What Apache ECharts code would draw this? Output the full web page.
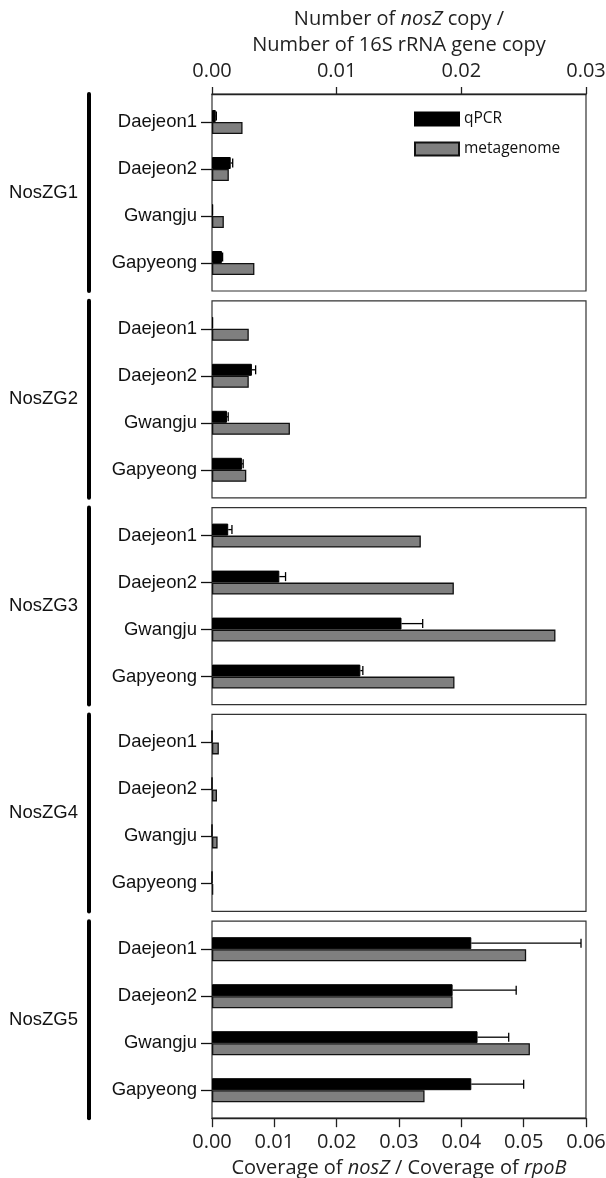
<!DOCTYPE html>
<html>
<head>
<meta charset="utf-8">
<script src="https://cdn.jsdelivr.net/npm/echarts@6/dist/echarts.min.js"></script>
<style>
  html, body { margin: 0; padding: 0; background: #fff; }
  #chart { width: 606px; height: 1178px; }
</style>
</head>
<body>
<div id="chart"></div>
<script>
// categories
const sites = ['Daejeon1', 'Daejeon2', 'Gwangju', 'Gapyeong']
const groups = ['NosZG1', 'NosZG2', 'NosZG3', 'NosZG4', 'NosZG5']

// tick labels (top: qPCR ratio, bottom: metagenome coverage)
const topTicks = [0, 0.01, 0.02, 0.03]
const bottomTicks = [0, 0.01, 0.02, 0.03, 0.04, 0.05, 0.06]

// nosZ copy / 16S rRNA gene copy (qPCR), one row per group
const qpcr = [
  [0.0003, 0.0015, 0.0001, 0.0008],
  [0.0001, 0.0032, 0.0012, 0.0024],
  [0.0013, 0.0054, 0.0152, 0.0119],
  [0, 0, 0, 0],
  [0.0208, 0.0193, 0.0213, 0.0208]
]
const qpcrErr = [
  [0.00005, 0.00016, 0, 0.00005],
  [0, 0.0003, 0.0001, 0.0001],
  [0.0003, 0.0005, 0.0017, 0.0002],
  [0, 0, 0, 0],
  [0.0088, 0.0051, 0.0025, 0.0042]
]
// coverage of nosZ / coverage of rpoB (metagenome)
const metagenome = [
  [0.0049, 0.0027, 0.0019, 0.0068],
  [0.0059, 0.0059, 0.0125, 0.0055],
  [0.0335, 0.0388, 0.0551, 0.0389],
  [0.0011, 0.0008, 0.0009, 0.0002],
  [0.0504, 0.0386, 0.0510, 0.0341]
]

const plotLeft = 212
const plotWidth = 374
const panelTop = 94
const panelStep = 206.8
const panelHeight = 197
const bandPad = 4.5
const barW = 12
const numFont = 'Open Sans'
const labelFont = 'Liberation Sans'

const grid = []
const xAxis = []
const yAxis = []
const series = []
const n = groups.length

// frame grids (box, left group bar, outer axes)
for (let i = 0; i < n; i++) {
  grid.push({
    left: plotLeft, width: plotWidth,
    top: panelTop + i * panelStep, height: panelHeight,
    outerBoundsMode: 'none',
    show: true, borderColor: '#333', borderWidth: 1.2, backgroundColor: 'transparent'
  })
  const isTop = i === 0
  const isBottom = i === n - 1
  const ticks = isTop ? topTicks : bottomTicks
  xAxis.push({
    type: 'value', gridIndex: i,
    show: isTop || isBottom,
    position: isTop ? 'top' : 'bottom',
    min: ticks[0], max: ticks[ticks.length - 1], interval: ticks[1] - ticks[0],
    axisLine: { show: true, onZero: false, lineStyle: { color: '#222', width: 1.3 } },
    axisTick: { show: true, length: isTop ? 7 : 9, lineStyle: { color: '#222', width: 1.3 } },
    splitLine: { show: false },
    axisLabel: {
      margin: isTop ? 13 : 14, color: '#222', fontFamily: numFont, fontSize: 20,
      formatter: v => v.toFixed(2)
    },
    name: isTop ? 'Number of {i|nosZ} copy /\nNumber of 16S rRNA gene copy'
      : 'Coverage of {i|nosZ} / Coverage of {i|rpoB}',
    nameLocation: 'middle',
    nameGap: isTop ? 36 : 37,
    nameTextStyle: {
      color: '#222', fontFamily: numFont, fontSize: 20, lineHeight: 26,
      rich: { i: { fontStyle: 'italic', fontFamily: numFont, fontSize: 20, color: '#222' } }
    }
  })
  yAxis.push({
    type: 'value', gridIndex: i, min: 0, max: 1,
    position: 'left', offset: 123,
    axisLine: { show: true, onZero: false, lineStyle: { color: '#000', width: 4 } },
    axisTick: { show: false },
    axisLabel: { show: false },
    splitLine: { show: false },
    name: groups[i],
    nameLocation: 'middle',
    nameRotate: 0,
    nameGap: 11,
    nameTextStyle: { color: '#111', fontFamily: labelFont, fontSize: 18.5 }
  })
}

// data grids
for (let i = 0; i < n; i++) {
  const g = n + i
  grid.push({
    left: plotLeft, width: plotWidth,
    top: panelTop + i * panelStep + bandPad, height: panelHeight - 2 * bandPad,
    outerBoundsMode: 'none'
  })
  xAxis.push({ type: 'value', gridIndex: g, show: false, min: 0, max: topTicks[topTicks.length - 1] })
  xAxis.push({ type: 'value', gridIndex: g, show: false, min: 0, max: bottomTicks[bottomTicks.length - 1] })
  yAxis.push({
    type: 'category', gridIndex: g, data: sites, inverse: true,
    axisLine: { show: false, onZero: false },
    axisTick: { show: true, alignWithLabel: true, length: 11, lineStyle: { color: '#111', width: 1.3 } },
    axisLabel: { margin: 15, color: '#111', fontFamily: labelFont, fontSize: 18.5 }
  })
  const qx = n + 2 * i
  const mx = n + 2 * i + 1
  series.push({
    name: 'qPCR', type: 'bar', xAxisIndex: qx, yAxisIndex: g,
    data: qpcr[i], barWidth: barW, barGap: '0%',
    itemStyle: { color: '#000', borderColor: '#000', borderWidth: 1 }
  })
  series.push({
    name: 'metagenome', type: 'bar', xAxisIndex: mx, yAxisIndex: g,
    data: metagenome[i], barWidth: barW, barGap: '0%',
    itemStyle: { color: '#7f7f7f', borderColor: '#111', borderWidth: 1.3 }
  })
  series.push({
    type: 'custom', xAxisIndex: qx, yAxisIndex: g, z: 5,
    data: qpcr[i].map((v, k) => [k, v, qpcrErr[i][k]]),
    encode: { x: [1, 2], y: 0 },
    renderItem(params, api) {
      const err = api.value(2)
      if (!err) return
      const a = api.coord([api.value(1), api.value(0)])
      const b = api.coord([api.value(1) + err, api.value(0)])
      const y = a[1] - barW / 2
      const style = { stroke: '#000', lineWidth: 1.3 }
      return {
        type: 'group',
        children: [
          { type: 'line', shape: { x1: a[0], y1: y, x2: b[0], y2: y }, style },
          { type: 'line', shape: { x1: b[0], y1: y - 4.5, x2: b[0], y2: y + 4.5 }, style }
        ]
      }
    }
  })
}

const option = {
  backgroundColor: '#fff',
  animation: false,
  grid, xAxis, yAxis, series,
  legend: {
    data: ['qPCR', 'metagenome'],
    orient: 'vertical',
    left: 409, top: 106,
    itemWidth: 44, itemHeight: 13, itemGap: 14,
    icon: 'rect',
    textStyle: { color: '#111', fontFamily: numFont, fontSize: 15.5 }
  }
}

const chart = echarts.init(document.getElementById('chart'))
chart.setOption(option)
</script>
</body>
</html>
